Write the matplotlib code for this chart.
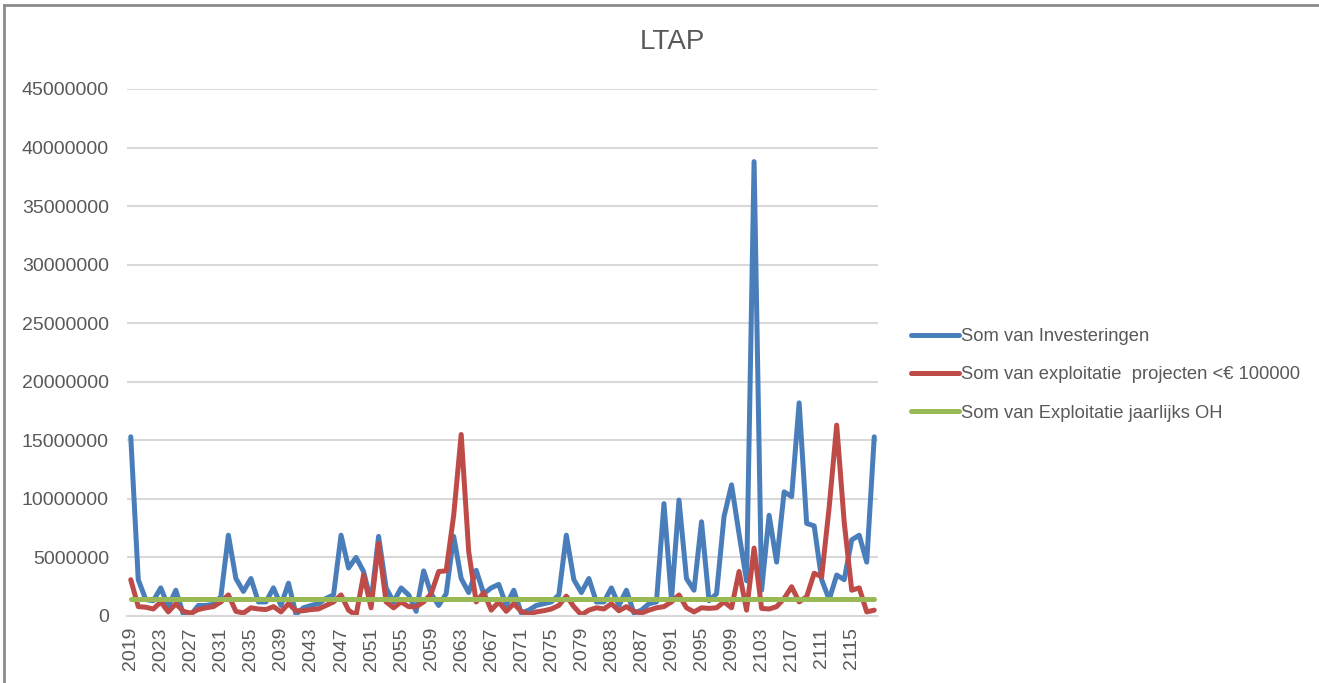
## LTAP CHART - LINE PLOT OF THREE SERIES PER YEAR
import matplotlib
matplotlib.use('Agg')
import matplotlib.pyplot as plt
from matplotlib.lines import Line2D

## YEARS ON THE X AXIS
years = list(range(2019, 2119))

## SOM VAN INVESTERINGEN (IN MILLIONS)
investeringen = [15.3, 3.1, 1.4, 1.3, 2.4, 0.8, 2.2, 0.15, 0.1, 0.9,
                 0.9, 1.0, 1.65, 6.9, 3.2, 2.1, 3.2, 1.2, 1.2, 2.4,
                 0.9, 2.8, 0.15, 0.7, 0.9, 1.05, 1.5, 1.8, 6.9, 4.1,
                 5.0, 3.8, 1.2, 6.8, 2.4, 1.2, 2.4, 1.8, 0.4, 3.85,
                 1.9, 0.9, 1.9, 6.8, 3.2, 2.0, 3.9, 1.9, 2.4, 2.7,
                 0.9, 2.2, 0.25, 0.5, 0.9, 1.05, 1.2, 1.8, 6.9, 3.1,
                 2.0, 3.2, 1.2, 1.2, 2.4, 0.9, 2.2, 0.25, 0.5, 1.05,
                 1.2, 9.6, 1.4, 9.9, 3.2, 2.2, 8.05, 1.3, 1.9, 8.5,
                 11.2, 7.0, 3.0, 38.8, 2.2, 8.6, 4.6, 10.6, 10.2, 18.2,
                 7.9, 7.7, 3.1, 1.4, 3.5, 3.1, 6.5, 6.9, 4.6, 15.3]

## SOM VAN EXPLOITATIE PROJECTEN < 100000 (IN MILLIONS)
exploitatie = [3.1, 0.8, 0.75, 0.6, 1.2, 0.35, 1.05, 0.4, 0.25, 0.55,
               0.7, 0.8, 1.2, 1.8, 0.4, 0.25, 0.7, 0.6, 0.55, 0.8,
               0.35, 1.05, 0.45, 0.45, 0.55, 0.6, 0.9, 1.2, 1.8, 0.5,
               0.05, 3.5, 0.7, 6.2, 1.2, 0.7, 1.2, 0.8, 0.8, 1.2,
               1.9, 3.8, 3.85, 8.6, 15.5, 5.5, 1.2, 2.0, 0.5, 1.2,
               0.4, 1.05, 0.4, 0.15, 0.35, 0.45, 0.6, 0.9, 1.7, 0.8,
               0.1, 0.5, 0.7, 0.6, 1.05, 0.45, 0.8, 0.4, 0.25, 0.5,
               0.7, 0.8, 1.2, 1.8, 0.7, 0.35, 0.7, 0.65, 0.7, 1.2,
               0.7, 3.8, 0.5, 5.8, 0.65, 0.6, 0.8, 1.5, 2.5, 1.2,
               1.65, 3.65, 3.35, 9.3, 16.3, 8.0, 2.2, 2.4, 0.35, 0.5]

## SOM VAN EXPLOITATIE JAARLIJKS OH (CONSTANT, IN MILLIONS)
jaarlijks_oh = [1.45] * len(years)

labels = ['Som van Investeringen',
          'Som van exploitatie  projecten <€ 100000',
          'Som van Exploitatie jaarlijks OH']
colors = ['#4A7EBB', '#BE4B48', '#98B954']

## CONVERT TO EUROS
series = [[v * 1e6 for v in s] for s in (investeringen, exploitatie, jaarlijks_oh)]

plt.rcParams['font.family'] = ['Liberation Sans', 'DejaVu Sans']

W, H = 1319, 683
fig = plt.figure(figsize=(W / 100, H / 100), dpi=100)
ax = fig.add_axes([127 / W, (H - 616) / H, (878 - 127) / W, (616 - 89) / H])

x = list(range(len(years)))
for s, c, lab in zip(series, colors, labels):
    ax.plot(x, s, color=c, lw=3.6, label=lab, solid_capstyle='round', solid_joinstyle='round')

## AXES LIMITS AND TICKS
ax.set_xlim(-0.5, len(years) - 0.5)
ax.set_ylim(0, 45000000)
ax.set_yticks(range(0, 45000001, 5000000))
ax.set_yticklabels([str(v) for v in range(0, 45000001, 5000000)])
ax.set_xticks(x[::4])
ax.set_xticklabels([str(y) for y in years[::4]], rotation=90)
ax.tick_params(axis='y', length=0, pad=13, labelsize=14, labelcolor='#595959')
ax.tick_params(axis='x', length=0, pad=8, labelsize=14, labelcolor='#595959')

## GRIDLINES AND SPINES
ax.yaxis.grid(True, color='#D9D9D9', lw=1.5)
ax.set_axisbelow(True)
for sp in ['top', 'right', 'left']:
    ax.spines[sp].set_visible(False)
ax.spines['bottom'].set_color('#D9D9D9')
ax.spines['bottom'].set_linewidth(1.5)

## TITLE
fig.text(672 / W, (H - 42) / H, 'LTAP', ha='center', va='center', fontsize=20, color='#595959')

## LEGEND
ax.legend(loc='center left', bbox_to_anchor=(911 / W, (H - 375) / H), bbox_transform=fig.transFigure,
          frameon=False, fontsize=13.2, handlelength=2.6, handletextpad=0.12, labelspacing=1.15,
          borderaxespad=0, borderpad=0, labelcolor='#595959')

## OUTER BORDER OF THE CHART AREA
fig.add_artist(Line2D([4 / W, 4 / W], [0, (H - 5) / H], color='#8C8C8C', lw=2))
fig.add_artist(Line2D([4 / W, 1], [(H - 5) / H, (H - 5) / H], color='#8C8C8C', lw=2))

fig.savefig('out.png', dpi=100)
